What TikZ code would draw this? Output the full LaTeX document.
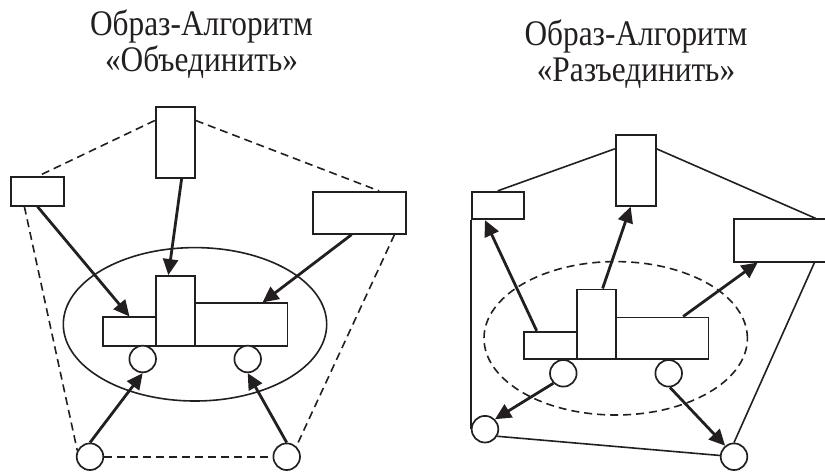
\documentclass[tikz,border=0pt]{standalone}
\usepackage{fontspec}
\setmainfont{Liberation Serif}
\newfontfamily\titlefont[FakeStretch=0.87]{Liberation Serif}
\usetikzlibrary{arrows.meta,shapes.geometric}
\definecolor{ink}{HTML}{231F20}

\begin{document}
\begin{tikzpicture}[x=1pt,y=-1pt]
\tikzstyle{block} = [
	shape=rectangle,
	draw=ink, %border of the block
	fill=white, %blocks hide what is behind them
	line width=1.7pt,
	inner sep=0pt
];
\tikzstyle{wheel} = [
	shape=circle,
	draw=ink,
	fill=white,
	line width=1.7pt,
	minimum size=26.6pt, %size of the wheels
	inner sep=0pt
];
\tikzstyle{title} = [
	font=\titlefont\fontsize{36}{36.7}\selectfont,
	text=ink,
	align=center,
	inner sep=0pt
];
\tikzstyle{push} = [-{Triangle[length=16pt,width=15pt]}];

\useasboundingbox (0,0) rectangle (825,472);

%titles (base is the last line)
\node[title, anchor=base] (TitleA) at (201.5,71.7) {Образ-Алгоритм\\«Объединить»};
\node[title, anchor=base] (TitleB) at (636,81.7) {Образ-Алгоритм\\«Разъединить»};

%first image: join
\node[ellipse, draw=ink, line width=1.6pt, minimum width=263.4pt, minimum height=153.4pt, inner sep=0pt] (E1) at (195,324.3) {};
\node[block, minimum width=39.3pt, minimum height=70.4pt] (T1) at (175.3,142.5) {};
\node[block, minimum width=53pt, minimum height=28.5pt] (L1) at (37.5,191.5) {};
\node[block, minimum width=93pt, minimum height=42pt] (R1) at (359.5,212.8) {};
\node[block, minimum width=52.4pt, minimum height=28.4pt] (A1) at (129.5,331.5) {};
\node[block, minimum width=92.3pt, minimum height=42.4pt] (C1) at (241.2,324.5) {};
\node[block, minimum width=39.3pt, minimum height=69.7pt] (B1) at (175.3,310.8) {};
\node[wheel] (P1) at (142.7,359) {};
\node[wheel] (Q1) at (247.7,359) {};
\node[wheel] (U1) at (90,456.7) {};
\node[wheel] (V1) at (286.7,456.7) {};

%second image: split
\node[ellipse, draw=ink, line width=1.6pt, dash pattern=on 8pt off 5pt, minimum width=263.4pt, minimum height=153.4pt, inner sep=0pt] (E2) at (615.7,338.3) {};
\node[block, minimum width=40pt, minimum height=70.7pt] (T2) at (635.7,170.4) {};
\node[block, minimum width=52pt, minimum height=27.6pt] (L2) at (497.7,205.5) {};
\node[block, minimum width=93pt, minimum height=42.4pt] (R2) at (780.5,240.5) {};
\node[block, minimum width=53pt, minimum height=27.3pt] (A2) at (550.2,345.3) {};
\node[block, minimum width=92.3pt, minimum height=41.7pt] (C2) at (662.2,338.2) {};
\node[block, minimum width=39.3pt, minimum height=69.7pt] (B2) at (596.3,324.2) {};
\node[wheel] (P2) at (563.3,373.3) {};
\node[wheel] (Q2) at (668.7,373.3) {};
\node[wheel] (U2) at (485,429.2) {};
\node[wheel] (V2) at (734,456.7) {};

%outline of the join
\draw[ink, line width=1.6pt, dash pattern=on 8pt off 5pt]
	(T1.133) edge[] (L1.north)
	(T1.47) edge[] (R1.48)
	(L1.229) edge[] (U1.154)
	(R1.-32) edge[] (V1.47)
	(U1.east) edge[] (V1.west)
;

%outline of the split
\draw[ink, line width=1.6pt]
	(T2.134) edge[] (L2.north)
	(T2.46) edge[] (R2.32)
	(L2.south west) edge[] (U2.west)
	(U2.-30) edge[] (V2.175)
	(R2.-33) edge[] (V2.north)
;

%parts come together
\draw[line width=2.8pt, color=ink]
	(L1.south) edge[push] (A1.north)
	(T1.-80) edge[push] (B1.101)
	(R1.250) edge[push] (C1.46)
	(U1.north) edge[push] (P1.south)
	(V1.north) edge[push] (Q1.south)
;

%parts fly apart
\draw[line width=2.8pt, color=ink]
	(A2.133) edge[push] (L2.229)
	(B2.80) edge[push] (T2.262)
	(C2.46) edge[push] (R2.224)
	(P2.225) edge[push] (U2.45)
	(Q2.-85) edge[push] (V2.129)
;
\end{tikzpicture}
\end{document}
